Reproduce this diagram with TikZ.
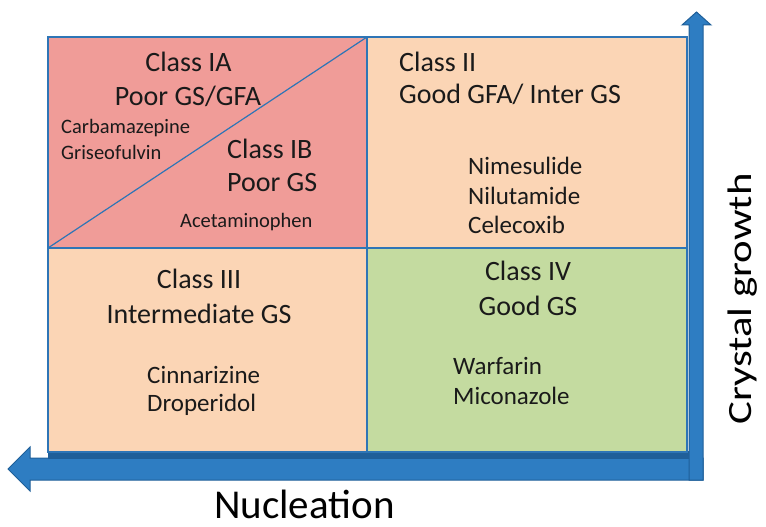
\documentclass[tikz,border=0pt]{standalone}
\usepackage{fontspec}
\setmainfont{Carlito}
\usepackage{graphicx}
\definecolor{redc}{HTML}{F09C98}
\definecolor{peach}{HTML}{FBD5B5}
\definecolor{greenc}{HTML}{C4DBA0}
\definecolor{gridblue}{HTML}{2E75B6}
\definecolor{arrowfill}{HTML}{2E7DC2}
\definecolor{arrowline}{HTML}{1F5F99}
\definecolor{txt}{HTML}{1A1A1A}
\begin{document}
\begin{tikzpicture}[x=1pt,y=-1pt,
  cls/.style={font=\fontsize{28}{30}\selectfont, text=txt, inner sep=0pt},
  drug/.style={font=\fontsize{25}{27}\selectfont, text=txt, inner sep=0pt},
  drugsm/.style={font=\fontsize{20.5}{22}\selectfont, text=txt, inner sep=0pt},
  axislabel/.style={font=\fontsize{41}{43}\selectfont, text=black, inner sep=0pt},
  gridline/.style={draw=gridblue, line width=2.2pt},
  diagline/.style={draw=gridblue, line width=1.2pt},
  bigarrow/.style={fill=arrowfill, draw=arrowline, line width=1pt, line join=miter}]
\useasboundingbox (0,0) rectangle (766,527);
% cells
\fill[redc] (48,37) rectangle (367,248);
\fill[peach] (367,37) rectangle (687,248);
\fill[peach] (48,248) rectangle (367,452);
\fill[greenc] (367,248) rectangle (687,452);
% horizontal arrow (Nucleation)
\draw[bigarrow] (703,458) -- (30,458) -- (30,447) -- (8,469) -- (30,491) -- (30,480) -- (703,480) -- cycle;
% dark band under grid
\fill[arrowline] (48,451) rectangle (689,459);
% vertical arrow (Crystal growth)
\draw[bigarrow] (689,480) -- (689,25) -- (682,25) -- (696.5,12) -- (711,25) -- (703,25) -- (703,480) -- cycle;
% grid
\draw[gridline] (48,37) rectangle (687,452);
\draw[gridline] (367,37) -- (367,452);
\draw[gridline] (48,248) -- (687,248);
\draw[diagline] (48,248) -- (367,37);
% Class I
\node[cls, anchor=base] (c1a) at (188.5,71) {Class IA};
\node[cls, anchor=base] (c1a2) at (188,106) {Poor GS/GFA};
\node[drugsm, anchor=base west] (carb) at (61,133) {Carbamazepine};
\node[drugsm, anchor=base west] (gris) at (61,159) {Griseofulvin};
\node[cls, anchor=base west] (c1b) at (227,158) {Class IB};
\node[cls, anchor=base west] (c1b2) at (227,191) {Poor GS};
\node[drugsm, anchor=base west] (acet) at (180,227) {Acetaminophen};
% Class II
\node[cls, anchor=base west] (c2) at (399,71) {Class II};
\node[cls, anchor=base west] (c22) at (399,103) {Good GFA/ Inter GS};
\node[drug, anchor=base west] (nime) at (468,174) {Nimesulide};
\node[drug, anchor=base west] (nilu) at (468,204) {Nilutamide};
\node[drug, anchor=base west] (cele) at (468,233) {Celecoxib};
% Class III
\node[cls, anchor=base] (c3) at (199,288) {Class III};
\node[cls, anchor=base] (c32) at (199,323) {Intermediate GS};
\node[drug, anchor=base west] (cinn) at (147,383) {Cinnarizine};
\node[drug, anchor=base west] (drop) at (147,411) {Droperidol};
% Class IV
\node[cls, anchor=base] (c4) at (528,280) {Class IV};
\node[cls, anchor=base] (c42) at (528,315) {Good GS};
\node[drug, anchor=base west] (warf) at (453,374) {Warfarin};
\node[drug, anchor=base west] (mico) at (453,404) {Miconazole};
% axis labels
\node[axislabel, anchor=base west] (nuc) at (214,518) {Nucleation};
\node[inner sep=0pt, text=black, font=\fontsize{34}{36}\selectfont, rotate=90, anchor=base west] (cg) at (751,425) {\scalebox{1.26}[1]{Crystal growth}};
\end{tikzpicture}
\end{document}
